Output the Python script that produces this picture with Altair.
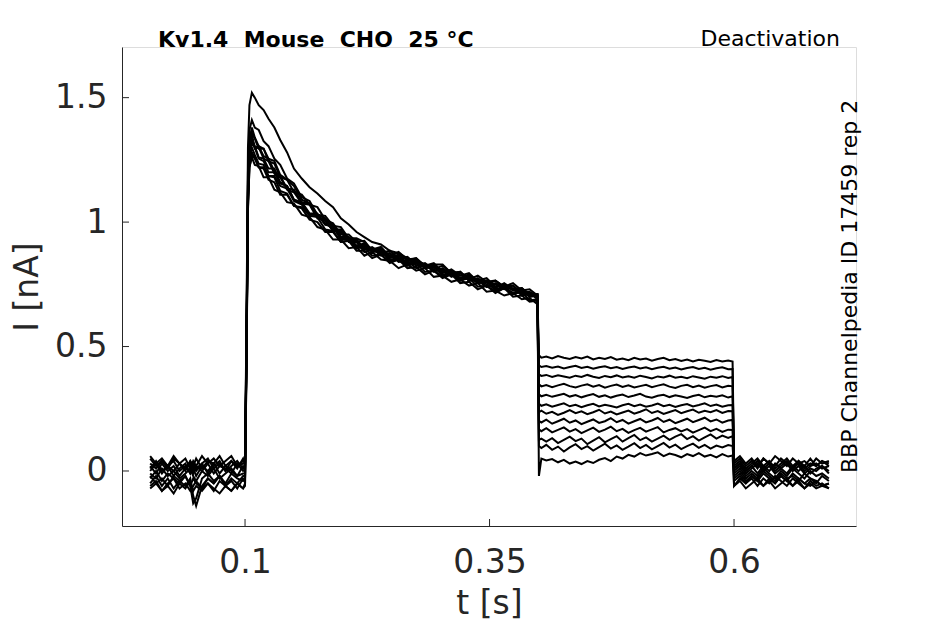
import altair as alt
import pandas as pd

# ---- time grids (s) ----
T_BASE = [0.003, 0.009, 0.015, 0.021, 0.027, 0.033, 0.039, 0.044, 0.047, 0.050,
          0.056, 0.062, 0.068, 0.074, 0.080, 0.086, 0.092, 0.098]
T_RISE = [0.1, 0.1015, 0.103, 0.1045, 0.107]
T_DECAY = [0.110, 0.114, 0.119, 0.124, 0.130, 0.136, 0.143, 0.150, 0.158, 0.166,
           0.174, 0.182, 0.190, 0.198, 0.206, 0.214, 0.222, 0.230, 0.239, 0.248,
           0.257, 0.266, 0.275, 0.284, 0.293, 0.302, 0.311, 0.320, 0.329, 0.338,
           0.347, 0.356, 0.365, 0.374, 0.383, 0.391, 0.399]
T_STEP = [0.4005, 0.403, 0.408, 0.414, 0.420, 0.426, 0.432, 0.438, 0.444, 0.450,
          0.456, 0.462, 0.468, 0.474, 0.480, 0.486, 0.492, 0.498, 0.504, 0.510,
          0.516, 0.522, 0.528, 0.534, 0.540, 0.546, 0.552, 0.558, 0.564, 0.570,
          0.576, 0.582, 0.588, 0.594, 0.5985]
T_TAIL = [0.600, 0.606, 0.612, 0.618, 0.624, 0.630, 0.636, 0.642, 0.648, 0.654,
          0.660, 0.666, 0.672, 0.678, 0.684, 0.690, 0.697]

# ---- current values (nA), one row per sweep ----
BASELINE = [
    [0.05, 0.02, 0.04, 0.01, 0.05, 0.03, 0.00, 0.04, 0.02, 0.05, 0.01, 0.04, 0.03, 0.06, 0.02, 0.04, 0.01, 0.05],
    [-0.05, -0.02, -0.06, -0.03, -0.07, -0.04, -0.02, -0.06, -0.03, -0.05, -0.07, -0.03, -0.05, -0.02, -0.06, -0.04, -0.07, -0.03],
    [0.02, -0.01, 0.03, 0.00, 0.02, -0.02, 0.01, 0.03, -0.01, 0.02, 0.00, 0.03, -0.01, 0.02, 0.01, -0.01, 0.03, 0.00],
    [-0.03, 0.00, -0.04, -0.01, -0.03, -0.05, -0.02, -0.06, -0.13, -0.11, -0.03, -0.01, -0.04, -0.02, -0.05, -0.01, -0.03, -0.04],
    [0.06, 0.03, 0.05, 0.02, 0.06, 0.03, 0.05, 0.01, 0.04, 0.02, 0.06, 0.03, 0.05, 0.02, 0.04, 0.06, 0.02, 0.04],
    [-0.06, -0.04, -0.08, -0.05, -0.03, -0.07, -0.05, -0.08, -0.06, -0.04, -0.07, -0.05, -0.08, -0.04, -0.06, -0.08, -0.05, -0.07],
    [0.00, 0.03, -0.01, 0.02, -0.02, 0.01, 0.03, -0.01, 0.01, -0.02, 0.02, 0.00, 0.03, -0.01, 0.02, 0.00, -0.02, 0.02],
    [-0.02, -0.05, -0.03, -0.06, -0.02, -0.04, -0.06, -0.03, -0.10, -0.14, -0.06, -0.03, -0.05, -0.02, -0.06, -0.03, -0.05, -0.02],
    [0.03, 0.01, 0.04, 0.02, 0.00, 0.03, 0.01, 0.04, 0.02, 0.00, 0.03, 0.05, 0.01, 0.03, 0.00, 0.04, 0.02, 0.03],
    [-0.01, -0.03, 0.01, -0.02, 0.00, -0.03, -0.01, 0.01, -0.02, -0.04, 0.00, -0.02, 0.01, -0.03, -0.01, 0.01, -0.02, -0.01],
    [0.01, 0.04, 0.00, 0.02, 0.04, 0.00, 0.02, -0.01, 0.03, 0.01, 0.03, -0.01, 0.02, 0.04, 0.00, 0.02, 0.04, 0.01],
    [-0.07, -0.05, -0.08, -0.06, -0.09, -0.05, -0.07, -0.04, -0.08, -0.06, -0.08, -0.05, -0.07, -0.09, -0.06, -0.08, -0.05, -0.07],
]
RISE = [
    [0.02, 0.55, 1.15, 1.31, 1.36],
    [-0.03, 0.50, 1.06, 1.22, 1.26],
    [0.01, 0.52, 1.13, 1.29, 1.34],
    [-0.03, 0.48, 1.10, 1.26, 1.30],
    [0.04, 0.62, 1.30, 1.47, 1.52],
    [-0.06, 0.50, 1.16, 1.33, 1.38],
    [0.01, 0.45, 1.05, 1.22, 1.27],
    [-0.02, 0.50, 1.12, 1.28, 1.32],
    [0.03, 0.56, 1.20, 1.37, 1.41],
    [-0.01, 0.40, 1.08, 1.30, 1.35],
    [0.02, 0.48, 1.08, 1.24, 1.28],
    [-0.05, 0.44, 1.10, 1.28, 1.33],
]
DECAY = [
    [1.335, 1.295, 1.295, 1.245, 1.235, 1.18, 1.17, 1.145, 1.09, 1.075, 1.03, 1.025, 0.985, 0.98, 0.935, 0.935, 0.92, 0.885, 0.895,
     0.865, 0.88, 0.85, 0.855, 0.825, 0.83, 0.83, 0.795, 0.80, 0.77, 0.785, 0.76, 0.765, 0.74, 0.755, 0.725, 0.73, 0.705],
    [1.23, 1.225, 1.18, 1.18, 1.13, 1.12, 1.08, 1.075, 1.03, 1.02, 0.98, 0.97, 0.93, 0.93, 0.895, 0.90, 0.865, 0.88, 0.85,
     0.845, 0.815, 0.83, 0.805, 0.815, 0.78, 0.785, 0.76, 0.77, 0.745, 0.755, 0.72, 0.725, 0.705, 0.715, 0.69, 0.695, 0.67],
    [1.295, 1.30, 1.255, 1.245, 1.195, 1.18, 1.13, 1.12, 1.075, 1.07, 1.015, 1.005, 0.965, 0.96, 0.92, 0.92, 0.88, 0.89, 0.87,
     0.875, 0.84, 0.845, 0.815, 0.83, 0.805, 0.81, 0.78, 0.795, 0.765, 0.765, 0.74, 0.75, 0.73, 0.735, 0.705, 0.71, 0.705],
    [1.27, 1.235, 1.23, 1.185, 1.185, 1.145, 1.135, 1.085, 1.07, 1.03, 1.03, 0.995, 0.99, 0.94, 0.94, 0.905, 0.915, 0.89, 0.90,
     0.86, 0.865, 0.835, 0.85, 0.825, 0.835, 0.80, 0.805, 0.775, 0.79, 0.765, 0.775, 0.74, 0.75, 0.725, 0.735, 0.71, 0.71],
    [1.50, 1.47, 1.45, 1.415, 1.38, 1.33, 1.28, 1.215, 1.175, 1.14, 1.115, 1.085, 1.06, 1.015, 0.99, 0.96, 0.94, 0.92, 0.91,
     0.885, 0.875, 0.855, 0.845, 0.83, 0.82, 0.805, 0.80, 0.785, 0.78, 0.765, 0.76, 0.75, 0.745, 0.73, 0.725, 0.715, 0.71],
    [1.34, 1.305, 1.295, 1.255, 1.245, 1.19, 1.17, 1.12, 1.11, 1.07, 1.06, 1.01, 0.995, 0.95, 0.95, 0.92, 0.925, 0.885, 0.89,
     0.855, 0.87, 0.845, 0.855, 0.82, 0.825, 0.795, 0.81, 0.785, 0.795, 0.76, 0.765, 0.735, 0.755, 0.73, 0.735, 0.705, 0.71],
    [1.255, 1.22, 1.215, 1.17, 1.16, 1.11, 1.11, 1.065, 1.055, 1.01, 1.00, 0.96, 0.96, 0.92, 0.925, 0.885, 0.885, 0.855, 0.87,
     0.84, 0.85, 0.815, 0.82, 0.79, 0.805, 0.78, 0.79, 0.755, 0.76, 0.73, 0.745, 0.72, 0.735, 0.70, 0.705, 0.68, 0.685],
    [1.30, 1.255, 1.245, 1.20, 1.20, 1.155, 1.145, 1.09, 1.075, 1.03, 1.03, 0.99, 0.985, 0.935, 0.93, 0.895, 0.905, 0.88, 0.89,
     0.85, 0.855, 0.825, 0.84, 0.815, 0.825, 0.79, 0.795, 0.765, 0.78, 0.755, 0.765, 0.73, 0.74, 0.71, 0.725, 0.70, 0.705],
    [1.38, 1.37, 1.325, 1.305, 1.255, 1.23, 1.175, 1.155, 1.10, 1.085, 1.03, 1.015, 0.97, 0.97, 0.93, 0.93, 0.89, 0.90, 0.875,
     0.885, 0.855, 0.86, 0.825, 0.835, 0.81, 0.825, 0.795, 0.80, 0.765, 0.775, 0.75, 0.765, 0.74, 0.745, 0.715, 0.72, 0.70],
    [1.30, 1.305, 1.265, 1.255, 1.205, 1.185, 1.135, 1.13, 1.08, 1.075, 1.02, 1.01, 0.965, 0.965, 0.925, 0.93, 0.89, 0.895, 0.865,
     0.875, 0.85, 0.86, 0.825, 0.83, 0.80, 0.815, 0.79, 0.80, 0.765, 0.77, 0.74, 0.755, 0.735, 0.745, 0.71, 0.715, 0.69],
    [1.26, 1.22, 1.22, 1.185, 1.18, 1.125, 1.115, 1.065, 1.06, 1.025, 1.02, 0.97, 0.965, 0.92, 0.925, 0.895, 0.90, 0.865, 0.87,
     0.835, 0.85, 0.825, 0.835, 0.80, 0.805, 0.775, 0.79, 0.765, 0.775, 0.74, 0.745, 0.715, 0.735, 0.71, 0.72, 0.685, 0.69],
    [1.305, 1.26, 1.255, 1.215, 1.215, 1.16, 1.145, 1.09, 1.08, 1.035, 1.035, 0.99, 0.98, 0.93, 0.93, 0.90, 0.91, 0.88, 0.885,
     0.845, 0.855, 0.83, 0.845, 0.815, 0.82, 0.785, 0.795, 0.77, 0.785, 0.755, 0.76, 0.725, 0.74, 0.715, 0.73, 0.70, 0.705],
]
STEP = [
    [0.465, 0.455, 0.46, 0.452, 0.462, 0.455, 0.45, 0.458, 0.452, 0.46, 0.448, 0.455, 0.45, 0.458, 0.447, 0.452, 0.445, 0.455,
     0.448, 0.452, 0.443, 0.45, 0.455, 0.445, 0.45, 0.442, 0.448, 0.44, 0.447, 0.443, 0.438, 0.446, 0.44, 0.444, 0.44],
    [0.425, 0.418, 0.422, 0.415, 0.42, 0.412, 0.418, 0.423, 0.414, 0.419, 0.411, 0.417, 0.421, 0.413, 0.418, 0.41, 0.416, 0.42,
     0.412, 0.417, 0.409, 0.415, 0.419, 0.411, 0.416, 0.408, 0.414, 0.418, 0.41, 0.415, 0.407, 0.413, 0.417, 0.409, 0.41],
    [0.388, 0.382, 0.386, 0.378, 0.385, 0.38, 0.375, 0.383, 0.378, 0.386, 0.379, 0.374, 0.382, 0.377, 0.384, 0.376, 0.381, 0.375,
     0.383, 0.378, 0.372, 0.38, 0.376, 0.383, 0.375, 0.379, 0.373, 0.381, 0.376, 0.371, 0.379, 0.375, 0.381, 0.374, 0.378],
    [0.348, 0.34, 0.345, 0.337, 0.344, 0.35, 0.341, 0.336, 0.343, 0.348, 0.339, 0.345, 0.335, 0.342, 0.347, 0.338, 0.344, 0.336,
     0.341, 0.346, 0.337, 0.343, 0.348, 0.339, 0.334, 0.342, 0.346, 0.337, 0.343, 0.335, 0.341, 0.345, 0.336, 0.342, 0.34],
    [0.308, 0.30, 0.306, 0.298, 0.304, 0.31, 0.299, 0.305, 0.296, 0.303, 0.309, 0.298, 0.304, 0.295, 0.302, 0.307, 0.297, 0.303,
     0.31, 0.299, 0.294, 0.302, 0.306, 0.297, 0.304, 0.299, 0.293, 0.301, 0.306, 0.296, 0.302, 0.298, 0.304, 0.295, 0.30],
    [0.27, 0.262, 0.268, 0.258, 0.265, 0.272, 0.26, 0.266, 0.256, 0.264, 0.27, 0.259, 0.266, 0.261, 0.255, 0.264, 0.27, 0.26,
     0.267, 0.258, 0.263, 0.271, 0.26, 0.266, 0.257, 0.264, 0.269, 0.259, 0.265, 0.272, 0.261, 0.267, 0.258, 0.264, 0.265],
    [0.236, 0.242, 0.23, 0.238, 0.225, 0.234, 0.245, 0.232, 0.24, 0.228, 0.236, 0.246, 0.231, 0.239, 0.227, 0.235, 0.243, 0.23,
     0.238, 0.248, 0.233, 0.241, 0.229, 0.237, 0.245, 0.232, 0.24, 0.247, 0.234, 0.242, 0.236, 0.245, 0.233, 0.241, 0.24],
    [0.202, 0.195, 0.206, 0.19, 0.20, 0.21, 0.194, 0.203, 0.188, 0.198, 0.207, 0.193, 0.20, 0.212, 0.196, 0.205, 0.19, 0.20,
     0.209, 0.195, 0.203, 0.213, 0.197, 0.206, 0.192, 0.201, 0.21, 0.196, 0.205, 0.214, 0.199, 0.207, 0.194, 0.203, 0.205],
    [0.168, 0.16, 0.172, 0.155, 0.165, 0.175, 0.158, 0.168, 0.152, 0.163, 0.174, 0.157, 0.166, 0.178, 0.16, 0.169, 0.153, 0.164,
     0.173, 0.158, 0.167, 0.176, 0.155, 0.165, 0.172, 0.159, 0.168, 0.154, 0.164, 0.174, 0.16, 0.169, 0.157, 0.166, 0.165],
    [0.125, 0.13, 0.118, 0.132, 0.112, 0.125, 0.138, 0.12, 0.13, 0.108, 0.122, 0.136, 0.115, 0.128, 0.14, 0.118, 0.132, 0.145,
     0.124, 0.135, 0.118, 0.13, 0.142, 0.125, 0.138, 0.148, 0.128, 0.14, 0.122, 0.135, 0.147, 0.13, 0.142, 0.133, 0.14],
    [0.10, 0.092, 0.105, 0.085, 0.098, 0.078, 0.095, 0.108, 0.088, 0.10, 0.082, 0.096, 0.11, 0.09, 0.103, 0.085, 0.098, 0.112,
     0.092, 0.105, 0.087, 0.10, 0.113, 0.094, 0.106, 0.088, 0.10, 0.11, 0.093, 0.105, 0.09, 0.102, 0.095, 0.104, 0.10],
    [-0.02, 0.05, 0.042, 0.048, 0.035, 0.045, 0.03, 0.038, 0.028, 0.04, 0.032, 0.045, 0.052, 0.04, 0.058, 0.05, 0.065, 0.058,
     0.072, 0.062, 0.068, 0.075, 0.06, 0.07, 0.064, 0.055, 0.068, 0.06, 0.072, 0.058, 0.065, 0.055, 0.068, 0.058, 0.062],
]
TAIL = [
    [0.03, 0.05, 0.02, 0.04, 0.01, 0.05, 0.03, 0.02, 0.05, 0.03, 0.01, 0.04, 0.02, 0.05, 0.02, 0.04, 0.03],
    [-0.04, -0.02, -0.05, -0.03, -0.06, -0.03, -0.05, -0.02, -0.04, -0.06, -0.03, -0.05, -0.07, -0.04, -0.06, -0.05, -0.07],
    [0.01, 0.03, 0.00, 0.02, -0.01, 0.02, 0.00, 0.03, 0.01, -0.01, 0.02, 0.00, 0.02, -0.01, 0.01, 0.02, 0.00],
    [-0.02, 0.00, -0.03, -0.01, -0.03, 0.00, -0.02, -0.04, -0.01, -0.03, -0.02, -0.04, -0.01, -0.03, -0.05, -0.02, -0.04],
    [0.04, 0.06, 0.03, 0.05, 0.02, 0.05, 0.03, 0.06, 0.04, 0.02, 0.05, 0.03, 0.04, 0.02, 0.05, 0.03, 0.04],
    [-0.06, -0.04, -0.07, -0.05, -0.03, -0.06, -0.04, -0.07, -0.05, -0.03, -0.06, -0.04, -0.07, -0.05, -0.07, -0.06, -0.07],
    [0.00, 0.02, -0.01, 0.01, 0.03, 0.00, 0.02, -0.01, 0.01, 0.03, 0.00, 0.02, -0.01, 0.01, 0.00, 0.02, -0.01],
    [-0.03, -0.01, -0.04, -0.02, -0.04, -0.01, -0.03, -0.05, -0.02, -0.04, -0.01, -0.03, -0.05, -0.03, -0.04, -0.06, -0.05],
    [0.02, 0.04, 0.01, 0.03, 0.05, 0.02, 0.04, 0.01, 0.03, 0.05, 0.02, 0.04, 0.01, 0.03, 0.02, 0.04, 0.02],
    [-0.01, 0.01, -0.02, 0.00, -0.02, 0.01, -0.01, -0.03, 0.00, -0.02, 0.01, -0.01, -0.03, 0.00, -0.02, -0.01, -0.03],
    [0.01, 0.03, 0.00, 0.02, 0.04, 0.01, 0.03, 0.00, 0.02, 0.04, 0.01, 0.03, 0.00, 0.02, 0.03, 0.01, 0.02],
    [-0.06, -0.03, -0.05, -0.02, -0.04, -0.06, -0.03, -0.05, -0.02, -0.04, -0.06, -0.03, -0.05, -0.06, -0.04, -0.06, -0.05],
]

X_TICKS = [0.1, 0.35, 0.6]
Y_TICKS = [0, 0.5, 1, 1.5]
TITLE_LEFT = "Kv1.4\u00a0\u00a0Mouse\u00a0\u00a0CHO\u00a0\u00a025\u00a0°C"
TITLE_RIGHT = "Deactivation"
SIDE_LABEL = "BBP Channelpedia ID 17459 rep 2"

# ---- build long table (segment by segment) ----
rows = []
segments = [(T_BASE, BASELINE), (T_RISE, RISE), (T_DECAY, DECAY), (T_STEP, STEP), (T_TAIL, TAIL)]
for k in range(len(BASELINE)):
    idx = 0
    for times, table in segments:
        for t, v in zip(times, table[k]):
            rows.append({"trace": k + 1, "idx": idx, "t": t, "I": v})
            idx += 1
df = pd.DataFrame(rows)

W, H = 734, 479
INK = "#262626"
FONT = "DejaVu Sans"

x_enc = alt.X(
    "t:Q",
    scale=alt.Scale(domain=[-0.0258, 0.7247], nice=False, zero=False),
    axis=alt.Axis(
        values=X_TICKS, format=".2~f", ticks=False, grid=False,
        labelFontSize=33, labelPadding=20, labelColor=INK, labelFont=FONT,
        labelFlush=False, domainColor=INK, domainWidth=1,
        title="t [s]", titleFontSize=33, titleFontWeight="normal", titleColor=INK,
        titleFont=FONT, titleY=87, titleBaseline="alphabetic",
    ),
)
y_enc = alt.Y(
    "I:Q",
    scale=alt.Scale(domain=[-0.221, 1.7035], nice=False, zero=False),
    axis=alt.Axis(
        values=Y_TICKS, format="~g", ticks=False, grid=False,
        labelFontSize=33, labelPadding=15, labelColor=INK, labelFont=FONT,
        labelFlush=False, domainColor=INK, domainWidth=1,
        title="I [nA]", titleFontSize=33, titleFontWeight="normal", titleColor=INK,
        titleFont=FONT, titleX=-84.6, titleY=H / 2, titleAngle=270,
        titleBaseline="alphabetic", titleAlign="center",
    ),
)

traces = alt.Chart(df).mark_line(color="black", strokeWidth=2.0).encode(
    x=x_enc, y=y_enc, detail="trace:N", order="idx:Q"
)

xt = alt.Chart(pd.DataFrame({"t": X_TICKS})).mark_rule(color=INK, strokeWidth=1).encode(
    x=x_enc, y=alt.value(H), y2=alt.value(H - 7)
)
yt = alt.Chart(pd.DataFrame({"I": Y_TICKS})).mark_rule(color=INK, strokeWidth=1).encode(
    y=y_enc, x=alt.value(0), x2=alt.value(7)
)

t_left = alt.Chart(pd.DataFrame({"label": [TITLE_LEFT]})).mark_text(
    font=FONT, fontSize=22, fontWeight="bold", color="black",
    align="left", baseline="alphabetic"
).encode(text="label:N", x=alt.value(36), y=alt.value(0))

t_right = alt.Chart(pd.DataFrame({"label": [TITLE_RIGHT]})).mark_text(
    font=FONT, fontSize=22, color="black", align="right", baseline="alphabetic"
).encode(text="label:N", x=alt.value(718), y=alt.value(-1))

t_side = alt.Chart(pd.DataFrame({"label": [SIDE_LABEL]})).mark_text(
    font=FONT, fontSize=22, color="black", align="left", baseline="alphabetic", angle=270
).encode(text="label:N", x=alt.value(735), y=alt.value(426))

chart = (
    alt.layer(traces, xt, yt, t_left, t_right, t_side)
    .properties(
        width=W, height=H,
        autosize=alt.AutoSizeParams(type="none"),
        padding={"left": 114, "top": 39, "right": 70, "bottom": 97},
    )
    .configure_view(stroke=None)
    .configure(font=FONT)
)

chart.save("out.html", embed_options={"renderer": "svg", "actions": False})
